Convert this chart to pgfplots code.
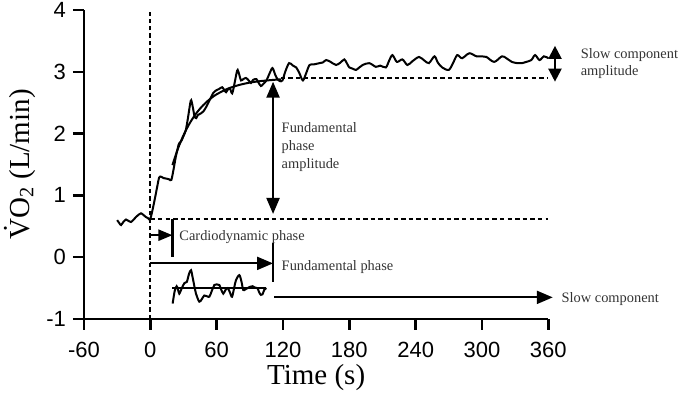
\documentclass[border=0pt]{standalone}
\usepackage{pgfplots}
\pgfplotsset{compat=1.18}
\usepackage{fontspec}
\setmainfont{Liberation Serif}
\setsansfont{Liberation Sans}
\usetikzlibrary{arrows.meta}
\newcommand{\ann}{\fontsize{7.2}{8.6}\selectfont\color{black!80}}
\begin{document}
\begin{tikzpicture}
\begin{axis}[
  x=0.5528pt, y=30.9pt,
  xmin=-60, xmax=360, ymin=-1, ymax=4,
  axis lines=left,
  axis line style={-, line width=1.3pt},
  tick align=outside,
  major tick length=5.5pt,
  tick style={line width=1.2pt, black},
  xtick={-60,0,60,120,180,240,300,360},
  ytick={-1,0,1,2,3,4},
  /pgf/number format/assume math mode=true,
  ticklabel style={font=\sffamily\fontsize{11}{13}\selectfont},
  xticklabel style={yshift=-2.5pt},
  yticklabel style={xshift=0pt},
  xlabel={Time (s)},
  ylabel={\.VO\textsubscript{2} (L/min)},
  xlabel style={at={(axis description cs:0.5,-0.191)}, anchor=center, font=\fontsize{14.5}{16}\selectfont},
  ylabel style={at={(axis description cs:-0.138,0.5)}, anchor=center, font=\fontsize{14.5}{16}\selectfont},
  clip=false,
]
\coordinate (O) at (axis cs:-60,-1);
% reference lines
\addplot[black, line width=1pt, dash pattern=on 2.2pt off 1.5pt] coordinates {(0,-1) (0,3.96)};
\addplot[black, line width=1pt, dash pattern=on 2.2pt off 1.6pt] coordinates {(0,0.62) (360,0.62)};
\addplot[black, line width=1pt, dash pattern=on 2.2pt off 1.6pt] coordinates {(118,2.9) (360,2.9)};
% VO2 trace
\addplot[black, line width=1pt, smooth, tension=0.5] coordinates {
(-30,0.60) (-28,0.55) (-26.5,0.52) (-24,0.58) (-22,0.61) (-20,0.59) (-17.5,0.57) (-15,0.61) (-13,0.65) (-10.5,0.69) (-8.4,0.71) (-6,0.68) (-4,0.65) (-2,0.63) (0,0.62)
(3,0.85) (6,1.12) (8,1.29) (10,1.30) (12,1.28) (15,1.27) (17,1.26) (19,1.25) (21,1.42) (23,1.62) (25,1.78) (26,1.84) (28,1.88) (30,1.96) (32,2.05) (34,2.25) (36,2.48) (37,2.54) (38.5,2.42) (40,2.28) (41.5,2.25) (43,2.30) (46,2.33) (48,2.36) (50.5,2.43) (53,2.52) (55,2.59) (57,2.66) (59.5,2.70) (62,2.72) (65,2.75) (67,2.70) (68.5,2.67) (70,2.71) (72,2.73) (74,2.65) (76,2.80) (78,2.98) (79,3.03) (80.5,2.95) (82,2.86) (84,2.88) (86.5,2.90) (89,2.86) (91,2.82) (93,2.87) (96,2.88) (98,2.82) (100,2.77) (102,2.80) (105,2.86) (108,2.98) (110.5,3.06) (113,2.95) (115,2.88) (117,2.85) (119.5,2.86) (122,3.00) (125.5,3.14) (129,3.10) (132,3.07) (135,2.97) (138,2.86) (141,2.98) (144,3.11) (148,3.12) (153,3.14) (156,3.15) (159,3.19) (163,3.16) (168,3.11) (172,3.15) (175.5,3.20) (178,3.13) (180,3.07) (183,3.05) (186,3.03) (189,3.07) (192,3.11) (198,3.14) (204,3.08) (208,3.10) (213,3.07) (216,3.18) (219,3.27) (223,3.16) (228,3.20) (232.5,3.11) (237,3.17) (243,3.24) (248,3.18) (252,3.14) (257,3.25) (260,3.15) (264,3.07) (270,3.03) (274,3.15) (277.6,3.27) (282,3.22) (288.5,3.30) (295,3.25) (300,3.25) (304,3.24) (311,3.16) (318,3.25) (322,3.22) (327,3.16) (332,3.14) (336,3.14) (340,3.16) (344.6,3.19) (348,3.27) (352,3.19) (356,3.25) (360,3.22)
};
% exponential fit
\addplot[black, line width=1pt, smooth] coordinates {
(20,1.49) (25,1.757) (30,1.973) (35,2.148) (40,2.29) (45,2.405) (50,2.498) (55,2.574) (60,2.636) (70,2.726) (80,2.785) (90,2.825) (100,2.85) (110,2.867) (118,2.878)
};
% residuals
\addplot[black, line width=1pt] coordinates {(20,-0.50) (105,-0.50)};
\addplot[black, line width=1pt, smooth, tension=0.5] coordinates {
(20.2,-0.75) (22,-0.55) (23.8,-0.47) (25,-0.52) (26.2,-0.59) (28.5,-0.50) (30.8,-0.42) (33,-0.40) (35,-0.27) (36.8,-0.21) (38.5,-0.35) (41.3,-0.59) (44.3,-0.72) (46.5,-0.68) (48.8,-0.62) (51,-0.63) (53.4,-0.64) (55.5,-0.55) (57.9,-0.45) (60,-0.44) (62.4,-0.45) (64,-0.52) (66,-0.59) (68,-0.53) (70,-0.50) (72,-0.57) (73.9,-0.64) (76,-0.48) (77.5,-0.37) (80.5,-0.29) (82.5,-0.40) (84,-0.53) (86,-0.52) (88,-0.50) (90,-0.48) (92.5,-0.47) (94.5,-0.49) (96.8,-0.50) (98.5,-0.57) (100,-0.61) (101.5,-0.60) (103,-0.53) (105,-0.50)
};
% arrows and bars
\addplot[black, line width=1.1pt, {Triangle[length=8pt,width=6.5pt]}-{Triangle[length=8pt,width=6.5pt]}] coordinates {(111,0.70) (111,2.84)};
\addplot[black, line width=1.1pt, {Triangle[length=6.5pt,width=6.5pt]}-{Triangle[length=6.5pt,width=6.5pt]}] coordinates {(366,2.84) (366,3.42)};
\addplot[black, line width=1.1pt, -{Triangle[length=7pt,width=5.5pt]}] coordinates {(0,0.356) (20,0.356)};
\addplot[black, line width=1.1pt] coordinates {(20,0.615) (20,0)};
\addplot[black, line width=1.1pt, -{Triangle[length=8pt,width=6.5pt]}] coordinates {(0,-0.10) (111,-0.10)};
\addplot[black, line width=1.1pt] coordinates {(111,0.23) (111,-0.40)};
\addplot[black, line width=1.1pt, -{Triangle[length=8pt,width=6.5pt]}] coordinates {(112,-0.65) (364,-0.65)};
% text
\node[anchor=base west, inner sep=0, font=\ann] at (axis cs:26,0.275) {Cardiodynamic phase};
\node[anchor=base west, inner sep=0, font=\ann] at (axis cs:118.5,-0.21) {Fundamental phase};
\node[anchor=base west, inner sep=0, font=\ann] at (axis cs:371.7,-0.74) {Slow component};
\node[anchor=base west, inner sep=0, font=\ann] at (axis cs:389,3.22) {Slow component};
\node[anchor=base west, inner sep=0, font=\ann] at (axis cs:389,2.94) {amplitude};
\node[anchor=base west, inner sep=0, font=\ann] at (axis cs:118.5,2.01) {Fundamental};
\node[anchor=base west, inner sep=0, font=\ann] at (axis cs:118.5,1.73) {phase};
\node[anchor=base west, inner sep=0, font=\ann] at (axis cs:118.5,1.44) {amplitude};
\end{axis}
\pgfresetboundingbox
\path[use as bounding box] (O) ++(-42pt,-43.5pt) rectangle ++(342.5pt,203pt);
\end{tikzpicture}
\end{document}
